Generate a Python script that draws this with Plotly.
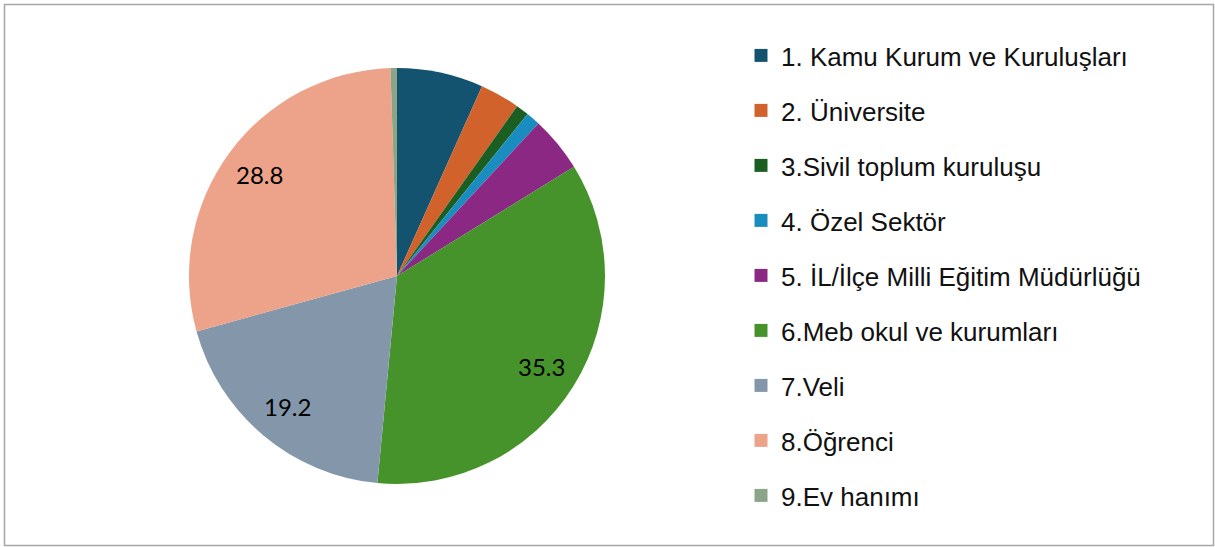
import math
import plotly.graph_objects as go

categories = [
    "1. Kamu Kurum ve Kuruluşları",
    "2. Üniversite",
    "3.Sivil toplum kuruluşu",
    "4. Özel Sektör",
    "5. İL/İlçe Milli Eğitim Müdürlüğü",
    "6.Meb okul ve kurumları",
    "7.Veli",
    "8.Öğrenci",
    "9.Ev hanımı",
]
values = [6.7, 3.1, 1.0, 1.1, 4.3, 35.3, 19.2, 28.8, 0.5]
colors = ["#145370", "#D1622B", "#1A5E22", "#1A8DC0", "#8B2883",
          "#46922B", "#8497AA", "#EDA28A", "#8AA588"]
label_threshold = 10

W, H = 1215, 547
CX, CY, R = 397, 276, 208  # pie centre and radius in pixels

fig = go.Figure()
fig.add_trace(go.Pie(
    labels=categories, values=values, sort=False, direction="clockwise",
    rotation=0, marker=dict(colors=colors, line=dict(width=0)),
    textinfo="none", showlegend=False, hoverinfo="label+value",
    domain=dict(x=[(CX - R) / W, (CX + R) / W], y=[1 - (CY + R) / H, 1 - (CY - R) / H]),
))

# data labels at the mid-angle of each large slice
total = sum(values)
cum = 0.0
annotations = []
for v in values:
    mid = (cum + v / 2) / total * 2 * math.pi
    cum += v
    if v > label_threshold:
        px = CX + 0.82 * R * math.sin(mid)
        py = CY - 0.82 * R * math.cos(mid)
        annotations.append(dict(
            x=px / W, y=1 - py / H, xref="paper", yref="paper",
            xanchor="center", yanchor="middle",
            text=f"{v:.1f}", showarrow=False,
            font=dict(family="Lato", size=24, color="black"),
        ))

for i, (c, col) in enumerate(zip(categories, colors)):
    fig.add_trace(go.Scatter(
        x=[None], y=[None], mode="markers", name=c,
        marker=dict(symbol="square", size=13, color=col),
        legendgroup=str(i), showlegend=True,
    ))

fig.update_layout(
    width=W, height=H,
    margin=dict(l=0, r=0, t=0, b=0),
    paper_bgcolor="white", plot_bgcolor="white",
    xaxis=dict(visible=False), yaxis=dict(visible=False),
    legend=dict(
        x=741 / W, y=1 - 32 / H, xanchor="left", yanchor="top",
        font=dict(family="Liberation Sans", size=26, color="#111111"),
        tracegroupgap=18.2, bgcolor="rgba(0,0,0,0)",
    ),
    annotations=annotations,
    shapes=[dict(type="rect", xref="paper", yref="paper",
                 x0=4.5 / W, x1=1213.5 / W, y0=1 - 545.5 / H, y1=1 - 4.5 / H,
                 line=dict(color="#A6A6A6", width=1.5))],
)

fig.write_html("out.html", config={"displayModeBar": False},
               post_script="document.body.style.margin='0px';document.body.style.overflow='hidden';")
